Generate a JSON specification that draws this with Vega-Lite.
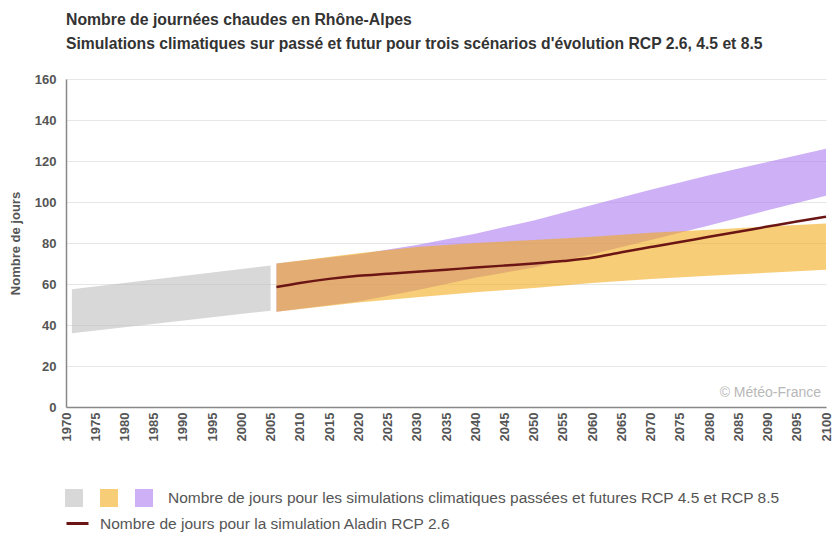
{
  "$schema": "https://vega.github.io/schema/vega-lite/v6.json",
  "width": 760,
  "height": 328,
  "autosize": {"type": "none"},
  "padding": {"left": 66, "top": 79, "right": 11, "bottom": 126},
  "background": "white",
  "title": {
    "text": "Nombre de journées chaudes en Rhône-Alpes",
    "subtitle": "Simulations climatiques sur passé et futur pour trois scénarios d'évolution RCP 2.6, 4.5 et 8.5",
    "anchor": "start",
    "frame": "group",
    "font": "Liberation Sans",
    "fontSize": 15.8,
    "fontWeight": "bold",
    "color": "#333333",
    "subtitleFont": "Liberation Sans",
    "subtitleFontSize": 15.7,
    "subtitleFontWeight": "bold",
    "subtitleColor": "#333333",
    "subtitlePadding": 9,
    "offset": 20
  },
  "datasets": {
    "bands": [
      {"s": "passe", "year": 1971, "lo": 36, "hi": 57.5},
      {"s": "passe", "year": 2005, "lo": 47, "hi": 69},
      {"s": "rcp85", "year": 2006, "lo": 46.5, "hi": 70},
      {"s": "rcp85", "year": 2020, "lo": 51.5, "hi": 74.5},
      {"s": "rcp85", "year": 2030, "lo": 57, "hi": 79},
      {"s": "rcp85", "year": 2040, "lo": 63, "hi": 84.5},
      {"s": "rcp85", "year": 2050, "lo": 68, "hi": 91},
      {"s": "rcp85", "year": 2060, "lo": 74.5, "hi": 98.5},
      {"s": "rcp85", "year": 2070, "lo": 81.5, "hi": 106},
      {"s": "rcp85", "year": 2080, "lo": 88.5, "hi": 113},
      {"s": "rcp85", "year": 2090, "lo": 96, "hi": 119.5},
      {"s": "rcp85", "year": 2100, "lo": 103, "hi": 126},
      {"s": "rcp45", "year": 2006, "lo": 46.5, "hi": 70},
      {"s": "rcp45", "year": 2020, "lo": 51, "hi": 75},
      {"s": "rcp45", "year": 2030, "lo": 53.5, "hi": 78},
      {"s": "rcp45", "year": 2040, "lo": 56, "hi": 80},
      {"s": "rcp45", "year": 2050, "lo": 58, "hi": 81.5},
      {"s": "rcp45", "year": 2060, "lo": 60.5, "hi": 83},
      {"s": "rcp45", "year": 2070, "lo": 62.5, "hi": 85},
      {"s": "rcp45", "year": 2080, "lo": 64, "hi": 86.5},
      {"s": "rcp45", "year": 2090, "lo": 65.5, "hi": 88},
      {"s": "rcp45", "year": 2100, "lo": 67, "hi": 89.5}
    ],
    "aladin": [
      {"s": "aladin", "year": 2006, "v": 58.5},
      {"s": "aladin", "year": 2010, "v": 60.5},
      {"s": "aladin", "year": 2015, "v": 62.5},
      {"s": "aladin", "year": 2020, "v": 64},
      {"s": "aladin", "year": 2025, "v": 65},
      {"s": "aladin", "year": 2030, "v": 66},
      {"s": "aladin", "year": 2035, "v": 67},
      {"s": "aladin", "year": 2040, "v": 68},
      {"s": "aladin", "year": 2045, "v": 69},
      {"s": "aladin", "year": 2050, "v": 70},
      {"s": "aladin", "year": 2055, "v": 71.2},
      {"s": "aladin", "year": 2060, "v": 72.8},
      {"s": "aladin", "year": 2065, "v": 75.5},
      {"s": "aladin", "year": 2070, "v": 78},
      {"s": "aladin", "year": 2075, "v": 80.5},
      {"s": "aladin", "year": 2080, "v": 83},
      {"s": "aladin", "year": 2085, "v": 85.5},
      {"s": "aladin", "year": 2090, "v": 88},
      {"s": "aladin", "year": 2095, "v": 90.5},
      {"s": "aladin", "year": 2100, "v": 92.8}
    ],
    "credit": [{"t": "© Météo-France"}]
  },
  "layer": [
    {
      "data": {"name": "bands"},
      "transform": [{"filter": "datum.s == 'rcp85'"}],
      "mark": {"type": "area", "opacity": 0.58},
      "encoding": {
        "x": {
          "field": "year",
          "type": "quantitative",
          "scale": {"domain": [1970, 2100], "nice": false, "zero": false},
          "axis": {"title": null, "values": [1970, 1975, 1980, 1985, 1990, 1995, 2000, 2005, 2010, 2015, 2020, 2025, 2030, 2035, 2040, 2045, 2050, 2055, 2060, 2065, 2070, 2075, 2080, 2085, 2090, 2095, 2100], "format": "d"}
        },
        "y": {
          "field": "lo",
          "type": "quantitative",
          "scale": {"domain": [0, 160], "nice": false},
          "axis": {"title": "Nombre de jours", "values": [0, 20, 40, 60, 80, 100, 120, 140, 160]}
        },
        "y2": {"field": "hi"},
        "color": {
          "field": "s",
          "type": "nominal",
          "scale": {"domain": ["passe", "rcp45", "rcp85"], "range": ["#bcbcbc", "#f3a915", "#a977ee"]},
          "legend": {
            "orient": "none",
            "legendX": -1,
            "legendY": 410,
            "direction": "horizontal",
            "title": null,
            "symbolType": "square",
            "symbolSize": 324,
            "symbolStrokeWidth": 0,
            "symbolOpacity": 0.58,
            "labelExpr": "datum.value == 'rcp85' ? 'Nombre de jours pour les simulations climatiques passées et futures RCP 4.5 et RCP 8.5' : ''",
            "labelOffset": 15,
            "columnPadding": 2,
            "labelFont": "Liberation Sans",
            "labelFontSize": 15.5,
            "labelColor": "#555555",
            "labelLimit": 900,
            "padding": 0
          }
        }
      }
    },
    {
      "data": {"name": "bands"},
      "transform": [{"filter": "datum.s == 'passe'"}],
      "mark": {"type": "area", "opacity": 0.58},
      "encoding": {
        "x": {"field": "year", "type": "quantitative", "axis": {"title": null, "values": [1970, 1975, 1980, 1985, 1990, 1995, 2000, 2005, 2010, 2015, 2020, 2025, 2030, 2035, 2040, 2045, 2050, 2055, 2060, 2065, 2070, 2075, 2080, 2085, 2090, 2095, 2100], "format": "d"}},
        "y": {"field": "lo", "type": "quantitative", "axis": {"title": "Nombre de jours", "values": [0, 20, 40, 60, 80, 100, 120, 140, 160]}},
        "y2": {"field": "hi"},
        "color": {"field": "s", "type": "nominal"}
      }
    },
    {
      "data": {"name": "bands"},
      "transform": [{"filter": "datum.s == 'rcp45'"}],
      "mark": {"type": "area", "opacity": 0.58},
      "encoding": {
        "x": {"field": "year", "type": "quantitative", "axis": {"title": null, "values": [1970, 1975, 1980, 1985, 1990, 1995, 2000, 2005, 2010, 2015, 2020, 2025, 2030, 2035, 2040, 2045, 2050, 2055, 2060, 2065, 2070, 2075, 2080, 2085, 2090, 2095, 2100], "format": "d"}},
        "y": {"field": "lo", "type": "quantitative", "axis": {"title": "Nombre de jours", "values": [0, 20, 40, 60, 80, 100, 120, 140, 160]}},
        "y2": {"field": "hi"},
        "color": {"field": "s", "type": "nominal"}
      }
    },
    {
      "data": {"name": "aladin"},
      "mark": {"type": "line", "strokeWidth": 2.5, "interpolate": "monotone"},
      "encoding": {
        "x": {"field": "year", "type": "quantitative", "axis": {"title": null, "values": [1970, 1975, 1980, 1985, 1990, 1995, 2000, 2005, 2010, 2015, 2020, 2025, 2030, 2035, 2040, 2045, 2050, 2055, 2060, 2065, 2070, 2075, 2080, 2085, 2090, 2095, 2100], "format": "d"}},
        "y": {"field": "v", "type": "quantitative", "axis": {"title": "Nombre de jours", "values": [0, 20, 40, 60, 80, 100, 120, 140, 160]}},
        "stroke": {
          "field": "s",
          "type": "nominal",
          "scale": {"domain": ["aladin"], "range": ["#6b1515"]},
          "legend": {
            "orient": "none",
            "legendX": -1,
            "legendY": 432,
            "title": null,
            "symbolType": "stroke",
            "symbolSize": 484,
            "symbolStrokeWidth": 3,
            "labelExpr": "'Nombre de jours pour la simulation Aladin RCP 2.6'",
            "labelOffset": 10,
            "labelFont": "Liberation Sans",
            "labelFontSize": 15.5,
            "labelColor": "#555555",
            "labelLimit": 900,
            "padding": 0
          }
        }
      }
    },
    {
      "data": {"name": "credit"},
      "mark": {"type": "text", "align": "right", "baseline": "bottom", "dx": -5, "dy": -7, "font": "Liberation Sans", "fontSize": 14, "fill": "#b8b8b8"},
      "encoding": {
        "x": {"datum": 2100, "type": "quantitative", "axis": {"title": null, "values": [1970, 1975, 1980, 1985, 1990, 1995, 2000, 2005, 2010, 2015, 2020, 2025, 2030, 2035, 2040, 2045, 2050, 2055, 2060, 2065, 2070, 2075, 2080, 2085, 2090, 2095, 2100], "format": "d"}},
        "y": {"datum": 0, "type": "quantitative", "axis": {"title": "Nombre de jours", "values": [0, 20, 40, 60, 80, 100, 120, 140, 160]}},
        "text": {"field": "t", "type": "nominal"}
      }
    }
  ],
  "config": {
    "view": {"stroke": null},
    "axis": {
      "labelFont": "Liberation Sans",
      "labelFontSize": 13,
      "labelFontWeight": "bold",
      "labelColor": "#555555",
      "titleFont": "Liberation Sans",
      "titleFontSize": 13,
      "titleFontWeight": "bold",
      "titleColor": "#555555",
      "ticks": false,
      "domainColor": "#888888",
      "domainWidth": 1.5,
      "gridColor": "#e6e6e6"
    },
    "axisX": {
      "labelAngle": 270,
      "labelPadding": 5,
      "labelOverlap": false,
      "labelBound": false,
      "labelFlush": false,
      "grid": false
    },
    "axisY": {
      "labelPadding": 10,
      "titlePadding": 12,
      "grid": true
    }
  }
}
